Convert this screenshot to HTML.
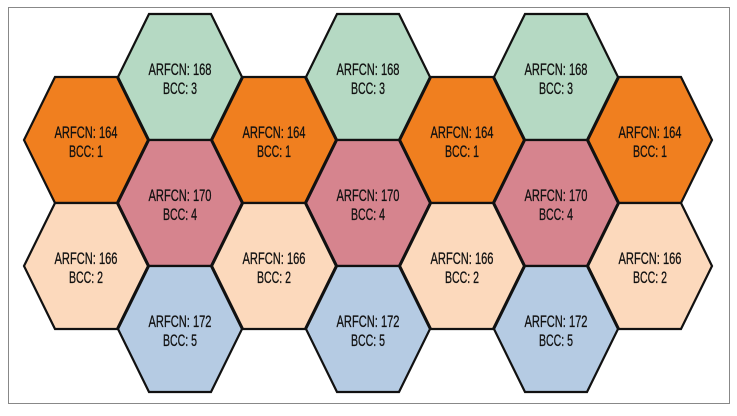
<!DOCTYPE html>
<html><head><style>html,body{margin:0;padding:0;background:#fff}</style></head><body>
<svg width="737" height="411" xmlns="http://www.w3.org/2000/svg" font-family="Liberation Sans, sans-serif" font-size="17">
<rect x="8.5" y="7.5" width="721" height="396" fill="#fff" stroke="#888" stroke-width="1"/>
<g id="g" stroke="#111" stroke-width="2.2" stroke-linejoin="miter"></g>
<script>
var g=document.getElementById('g');var ns='http://www.w3.org/2000/svg';
var C={o:'#f07f1f',g:'#b5d9c3',p:'#d6848e',e:'#fcd9bc',b:'#b5cbe3'};
var cells=[];
for(var k=0;k<7;k++){var cx=86+94*k;
 if(k%2==0){cells.push([cx,140,'o',164,1]);cells.push([cx,266,'e',166,2]);}
 else{cells.push([cx,77,'g',168,3]);cells.push([cx,203,'p',170,4]);cells.push([cx,329,'b',172,5]);}}
cells.forEach(function(c){var x=c[0],y=c[1];
 var p=document.createElementNS(ns,'polygon');
 p.setAttribute('points',[[x-62,y],[x-31,y-63],[x+31,y-63],[x+62,y],[x+31,y+63],[x-31,y+63]].map(function(a){return a.join(',')}).join(' '));
 p.setAttribute('fill',C[c[2]]);g.appendChild(p);
 [['ARFCN: '+c[3],y-2,63],['BCC: '+c[4],y+17,34]].forEach(function(t){
  var e=document.createElementNS(ns,'text');e.setAttribute('x',x);e.setAttribute('y',t[1]);
  e.setAttribute('text-anchor','middle');e.setAttribute('stroke','#111');e.setAttribute('stroke-width','0.3');e.setAttribute('fill','#111');
  e.setAttribute('textLength',t[2]);e.setAttribute('lengthAdjust','spacingAndGlyphs');
  e.textContent=t[0];g.appendChild(e);});
});
</script>
</svg>
</body></html>
